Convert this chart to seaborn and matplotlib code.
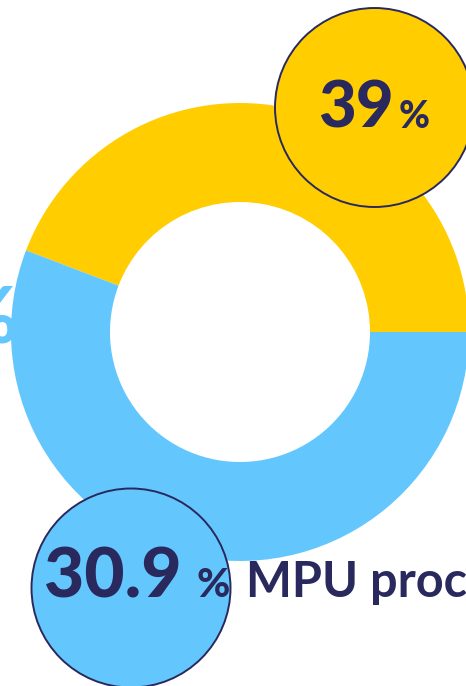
import numpy as np
import matplotlib
matplotlib.use("Agg")
import matplotlib.pyplot as plt
from matplotlib.patches import Circle
import seaborn as sns

# donut shares (yellow arc ends near 159 deg)
segments = ["yellow", "blue"]
shares = [44.2, 55.8]
seg_colors = ["#FFCD00", "#63C7FE"]

# callout labels
big_labels = ["39", "30.9"]
small_suffix = "%"
caption = "MPU proc"

NAVY = "#29295E"

sns.set_theme(style="white")
plt.rcParams["font.family"] = ["Lato", "DejaVu Sans"]

W, H = 466, 686
fig = plt.figure(figsize=(W / 100, H / 100), dpi=100)
ax = fig.add_axes([0, 0, 1, 1])

def py(y):
    # pixel row (from top) -> data y
    return H - y

ax.pie(shares, colors=seg_colors, startangle=0, counterclock=True,
       radius=229, center=(240, py(332)),
       wedgeprops=dict(width=99, linewidth=0, antialiased=True), frame=False)

ax.set_xlim(0, W)
ax.set_ylim(0, H)
ax.set_aspect("auto")
ax.axis("off")

# partial blue label cut off at left edge
ax.text(17, py(343), "%", color=seg_colors[1], fontsize=56, fontweight="black",
        ha="right", va="baseline")

# yellow callout bubble
ax.add_patch(Circle((374.5, py(107.5)), 99.5, facecolor=seg_colors[0],
                    edgecolor=NAVY, linewidth=1.4, zorder=3))
ax.text(394, py(128), big_labels[0], color=NAVY, fontsize=47, fontweight="black",
        ha="right", va="baseline", zorder=4)
ax.text(399, py(128), small_suffix, color=NAVY, fontsize=27, fontweight="black",
        ha="left", va="baseline", zorder=4)

# blue callout bubble
ax.add_patch(Circle((131, py(588)), 99.5, facecolor=seg_colors[1],
                    edgecolor=NAVY, linewidth=1.4, zorder=3))
ax.text(44, py(597), big_labels[1], color=NAVY, fontsize=50, fontweight="black",
        ha="left", va="baseline", zorder=4)
ax.text(196, py(597), small_suffix, color=NAVY, fontsize=29, fontweight="black",
        ha="left", va="baseline", zorder=4)
ax.text(246, py(597), caption, color=NAVY, fontsize=35, fontweight="bold",
        ha="left", va="baseline", zorder=4)

fig.savefig("out.png", dpi=100, facecolor="white")
plt.close(fig)
